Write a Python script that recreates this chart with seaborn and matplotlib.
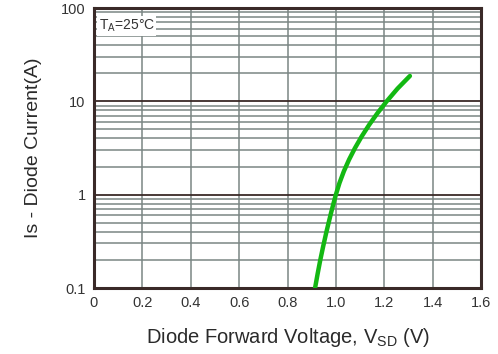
import matplotlib
matplotlib.use("Agg")
import matplotlib.pyplot as plt
import seaborn as sns
import pandas as pd

# data (forward voltage V vs source-drain current A)
voltage = [0.914, 0.9244, 0.9356, 0.9478, 0.9608, 0.9796, 0.9896, 1.0,
           1.0149, 1.033, 1.0544, 1.079, 1.1069, 1.138, 1.1724, 1.21, 1.255, 1.306]
current = [0.1, 0.1413, 0.2, 0.2818, 0.398, 0.631, 0.794, 1.0,
           1.334, 1.78, 2.371, 3.16, 4.217, 5.62, 7.499, 10.0, 13.7, 18.7]
x_ticks = [0, 0.2, 0.4, 0.6, 0.8, 1.0, 1.2, 1.4, 1.6]
x_tick_labels = ["0", "0.2", "0.4", "0.6", "0.8", "1.0", "1.2", "1.4", "1.6"]
y_ticks = [0.1, 1, 10, 100]
y_tick_labels = ["0.1", "1", "10", "100"]

sns.set_theme(style="white")
plt.rcParams["font.family"] = ["Liberation Sans", "DejaVu Sans"]

df = pd.DataFrame({"V": voltage, "I": current})

fig = plt.figure(figsize=(4.98, 3.54), dpi=100)
ax = fig.add_axes([94/498, 1-288/354, (481-94)/498, (288-8)/354])
ax.set_yscale("log")
ax.set_xlim(0, 1.6)
ax.set_ylim(0.1, 100)

grid_col = "#7a8684"
major_col = "#3a2a28"
for xv in x_ticks[1:-1]:
    ax.axvline(xv, color=grid_col, lw=1.1, zorder=1)
for dec in [0.1, 1, 10]:
    for m in range(2, 10):
        ax.axhline(dec*m, color=grid_col, lw=1.1, zorder=1)
for yv in [1, 10]:
    ax.axhline(yv, color=major_col, lw=1.3, zorder=1)

sns.lineplot(data=df, x="V", y="I", ax=ax, color="#13b813", lw=3.2,
             zorder=3, estimator=None, sort=False)
for ln in ax.lines[-1:]:
    ln.set_solid_capstyle("round")
    ln.set_solid_joinstyle("round")

ax.set_xticks(x_ticks)
ax.set_xticklabels(x_tick_labels)
ax.set_yticks(y_ticks)
ax.set_yticklabels(y_tick_labels)
ax.yaxis.set_minor_locator(matplotlib.ticker.NullLocator())
ax.tick_params(axis="both", length=0, labelsize=10.5, colors="#333333", pad=6)

for s in ax.spines.values():
    s.set_color(major_col)
    s.set_linewidth(2.2)

ax.set_xlabel(r"Diode Forward Voltage, V$\mathregular{_{SD}}$ (V)", fontsize=14.5,
              color="#2a2a2a", labelpad=11)
ax.set_ylabel("Is - Diode Current(A)", fontsize=14, color="#2a2a2a", labelpad=14)

ax.text(0.012, 0.965, r"T$\mathregular{_A}$=25°C", transform=ax.transAxes,
        fontsize=10, color="#333333", va="top", ha="left", zorder=4,
        bbox=dict(boxstyle="square,pad=0.12", fc="white", ec="none"))

fig.savefig("out.png", dpi=100)
